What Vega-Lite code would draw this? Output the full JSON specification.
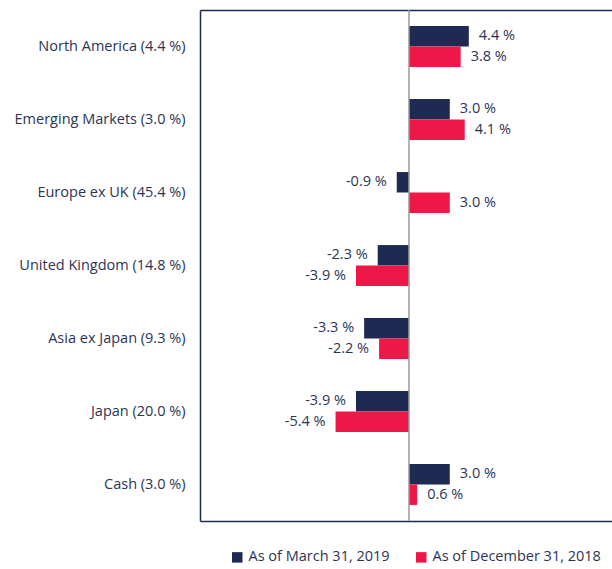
{
  "$schema": "https://vega.github.io/schema/vega-lite/v6.json",
  "autosize": {"type": "none"},
  "padding": {"left": 200, "top": 10, "right": 0, "bottom": 48},
  "width": 412,
  "height": 511,
  "background": "white",
  "config": {
    "view": {"stroke": null},
    "font": "Open Sans",
    "axis": {"labelFont": "Open Sans", "labelColor": "#2c3457"},
    "legend": {"labelFont": "Open Sans", "labelColor": "#2c3457"}
  },
  "data": {
    "values": [
      {"region": "North America (4.4 %)", "series": "As of March 31, 2019", "value": 4.4},
      {"region": "North America (4.4 %)", "series": "As of December 31, 2018", "value": 3.8},
      {"region": "Emerging Markets (3.0 %)", "series": "As of March 31, 2019", "value": 3.0},
      {"region": "Emerging Markets (3.0 %)", "series": "As of December 31, 2018", "value": 4.1},
      {"region": "Europe ex UK (45.4 %)", "series": "As of March 31, 2019", "value": -0.9},
      {"region": "Europe ex UK (45.4 %)", "series": "As of December 31, 2018", "value": 3.0},
      {"region": "United Kingdom (14.8 %)", "series": "As of March 31, 2019", "value": -2.3},
      {"region": "United Kingdom (14.8 %)", "series": "As of December 31, 2018", "value": -3.9},
      {"region": "Asia ex Japan (9.3 %)", "series": "As of March 31, 2019", "value": -3.3},
      {"region": "Asia ex Japan (9.3 %)", "series": "As of December 31, 2018", "value": -2.2},
      {"region": "Japan (20.0 %)", "series": "As of March 31, 2019", "value": -3.9},
      {"region": "Japan (20.0 %)", "series": "As of December 31, 2018", "value": -5.4},
      {"region": "Cash (3.0 %)", "series": "As of March 31, 2019", "value": 3.0},
      {"region": "Cash (3.0 %)", "series": "As of December 31, 2018", "value": 0.6}
    ]
  },
  "encoding": {
    "y": {
      "field": "region",
      "type": "nominal",
      "sort": null,
      "scale": {"paddingInner": 0.44, "paddingOuter": 0.22},
      "axis": {"title": null, "ticks": false, "labelFontSize": 14.5, "labelPadding": 15, "labelLimit": 300, "domainColor": "#1f2a52", "domainWidth": 1.5}
    },
    "yOffset": {"field": "series", "type": "nominal", "sort": ["As of March 31, 2019", "As of December 31, 2018"]}
  },
  "resolve": {"axis": {"x": "independent"}},
  "layer": [
    {
      "mark": {"type": "bar"},
      "encoding": {
        "x": {
          "field": "value",
          "type": "quantitative",
          "scale": {"domain": [-15.37, 14.93], "nice": false, "zero": false},
          "axis": {"title": null, "labels": false, "ticks": false, "grid": false, "domainColor": "#1f2a52", "domainWidth": 1.5}
        },
        "color": {
          "field": "series",
          "type": "nominal",
          "sort": ["As of March 31, 2019", "As of December 31, 2018"],
          "scale": {"domain": ["As of March 31, 2019", "As of December 31, 2018"], "range": ["#1f2a52", "#ee1848"]},
          "legend": {"title": null, "orient": "none", "legendX": 30, "legendY": 540, "direction": "horizontal", "symbolType": "square", "symbolSize": 110, "symbolStrokeWidth": 0, "labelFontSize": 14.5, "labelLimit": 300, "columnPadding": 24}
        }
      }
    },
    {
      "transform": [
        {"filter": "datum.value >= 0"},
        {"calculate": "format(datum.value, '.1f') + ' %'", "as": "lab"}
      ],
      "mark": {"type": "text", "align": "left", "baseline": "middle", "dx": 10, "fontSize": 14.5, "color": "#2c3457"},
      "encoding": {
        "x": {"field": "value", "type": "quantitative", "axis": null},
        "text": {"field": "lab"}
      }
    },
    {
      "transform": [
        {"filter": "datum.value < 0"},
        {"calculate": "'-' + format(abs(datum.value), '.1f') + ' %'", "as": "lab"}
      ],
      "mark": {"type": "text", "align": "right", "baseline": "middle", "dx": -10, "fontSize": 14.5, "color": "#2c3457"},
      "encoding": {
        "x": {"field": "value", "type": "quantitative", "axis": null},
        "text": {"field": "lab"}
      }
    },
    {
      "data": {"values": [{"zero": 0}]},
      "mark": {"type": "rule", "color": "#9a9a9a", "strokeWidth": 1.5},
      "encoding": {
        "x": {
          "field": "zero",
          "type": "quantitative",
          "axis": {"orient": "top", "title": null, "labels": false, "ticks": false, "grid": false, "domainColor": "#1f2a52", "domainWidth": 1.5}
        },
        "y": null,
        "yOffset": null
      }
    }
  ]
}
